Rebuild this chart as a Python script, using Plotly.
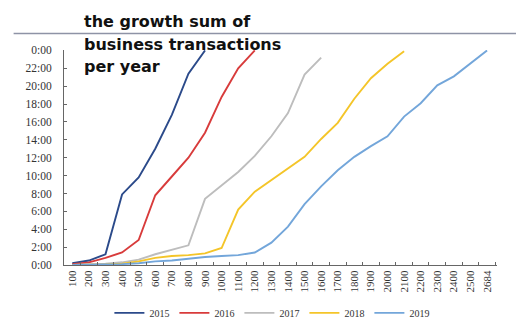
import plotly.graph_objects as go

categories = ["100", "200", "300", "400", "500", "600", "700", "800", "900", "1000",
              "1100", "1200", "1300", "1400", "1500", "1600", "1700", "1800", "1900",
              "2000", "2100", "2200", "2300", "2400", "2500", "2684"]

y2015 = [0.2, 0.5, 1.2, 7.9, 9.8, 13.0, 16.8, 21.4, 24.0]
y2016 = [0.1, 0.3, 0.8, 1.4, 2.8, 7.8, 9.9, 12.0, 14.8, 18.8, 22.0, 24.0]
y2017 = [0.0, 0.05, 0.15, 0.3, 0.6, 1.2, 1.7, 2.2, 7.4, 8.9, 10.4, 12.2, 14.4, 17.0, 21.3, 23.2]
y2018 = [0.0, 0.0, 0.05, 0.15, 0.4, 0.8, 1.0, 1.1, 1.3, 1.9, 6.2, 8.2, 9.5, 10.8, 12.1,
         14.1, 15.9, 18.6, 20.9, 22.5, 23.9]
y2019 = [0.0, 0.0, 0.05, 0.1, 0.2, 0.4, 0.5, 0.7, 0.9, 1.0, 1.1, 1.4, 2.5, 4.3, 6.8,
         8.8, 10.6, 12.1, 13.3, 14.4, 16.6, 18.1, 20.1, 21.1, 22.5, 24.0]

series = [("2015", y2015, "#2B4A8A"),
          ("2016", y2016, "#D83B3B"),
          ("2017", y2017, "#BDBDBD"),
          ("2018", y2018, "#F4C529"),
          ("2019", y2019, "#73A6DA")]

y_tickvals = list(range(0, 25, 2))
y_ticktext = ["0:00", "2:00", "4:00", "6:00", "8:00", "10:00", "12:00", "14:00",
              "16:00", "18:00", "20:00", "22:00", "0:00"]

title_lines = ["the growth sum of", "business transactions", "per year"]

fig = go.Figure()
for name, vals, color in series:
    fig.add_trace(go.Scatter(x=categories[:len(vals)], y=vals, name=name, mode="lines",
                             line=dict(color=color, width=1.9)))

# the page body has an 8px margin, so figure coords = screen coords - 8
W, H = 516, 319
ml, mr, mt, mb = 55.5, 26.5, 41.5, 62
pw, ph = W - ml - mr, H - mt - mb

def px_x(x):
    return (x - ml) / pw

def px_y(y):
    return (H - mb - y) / ph

fig.update_layout(
    width=W, height=H,
    margin=dict(l=ml, r=mr, t=mt, b=mb, pad=0, autoexpand=False),
    paper_bgcolor="white", plot_bgcolor="white",
    showlegend=True,
    legend=dict(orientation="h", x=px_x(101), xanchor="left", y=px_y(305), yanchor="middle",
                font=dict(family="Liberation Serif", size=10, color="#333"),
                bgcolor="rgba(0,0,0,0)"),
    xaxis=dict(type="category", categoryorder="array", categoryarray=categories,
               range=[-0.5, 25.6], showgrid=False, showline=True, linecolor="#666", linewidth=1,
               ticks="inside", ticklen=3, tickcolor="#666", tickson="boundaries",
               tickangle=-90, tickfont=dict(family="Liberation Serif", size=11, color="#333"),
               zeroline=False),
    yaxis=dict(range=[0, 24.05], tickvals=y_tickvals, ticktext=y_ticktext,
               showgrid=False, showline=True, linecolor="#666", linewidth=1,
               ticks="inside", ticklen=3, tickcolor="#666", zeroline=False,
               tickfont=dict(family="Liberation Serif", size=11.5, color="#333"),
               ticklabelstandoff=9),
)

fig.add_shape(type="line", xref="paper", yref="paper",
              x0=px_x(5), x1=px_x(W), y0=px_y(25), y1=px_y(25),
              line=dict(color="#8E93A6", width=1.5))

line_centers = [12.5, 35.5, 58]
for text, yc in zip(title_lines, line_centers):
    fig.add_annotation(text=text, xref="paper", yref="paper", x=px_x(74), y=px_y(yc),
                       xanchor="left", yanchor="middle", showarrow=False,
                       font=dict(family="DejaVu Sans", size=16, color="#111", weight="bold"))

fig.write_html("out.html")
